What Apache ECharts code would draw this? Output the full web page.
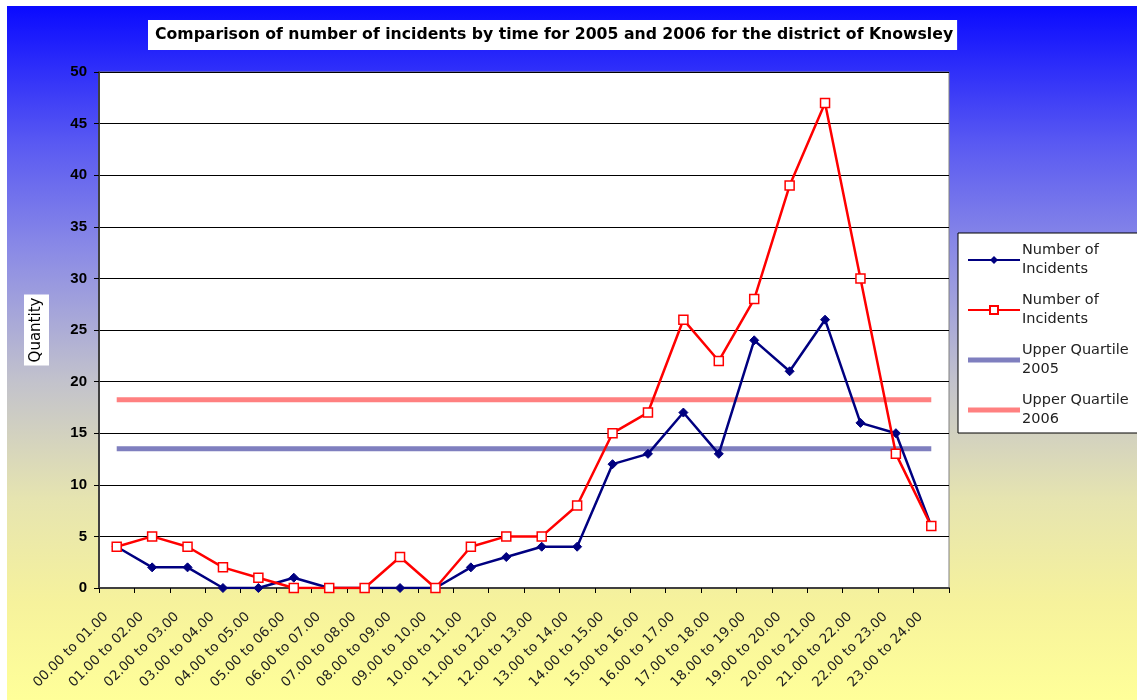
<!DOCTYPE html>
<html>
<head>
<meta charset="utf-8">
<style>
  html, body { margin: 0; padding: 0; background: #fff; }
  #chart { width: 1137px; height: 700px; }
</style>
<script src="https://cdn.jsdelivr.net/npm/echarts@6/dist/echarts.min.js"></script>
</head>
<body>
<div id="chart"></div>
<script>
// time bands
var hours = ['00.00 to 01.00', '01.00 to 02.00', '02.00 to 03.00', '03.00 to 04.00',
  '04.00 to 05.00', '05.00 to 06.00', '06.00 to 07.00', '07.00 to 08.00',
  '08.00 to 09.00', '09.00 to 10.00', '10.00 to 11.00', '11.00 to 12.00',
  '12.00 to 13.00', '13.00 to 14.00', '14.00 to 15.00', '15.00 to 16.00',
  '16.00 to 17.00', '17.00 to 18.00', '18.00 to 19.00', '19.00 to 20.00',
  '20.00 to 21.00', '21.00 to 22.00', '22.00 to 23.00', '23.00 to 24.00'];

var incidents2005 = [4, 2, 2, 0, 0, 1, 0, 0, 0, 0, 2, 3, 4, 4, 12, 13, 17, 13, 24, 21, 26, 16, 15, 6];
var incidents2006 = [4, 5, 4, 2, 1, 0, 0, 0, 3, 0, 4, 5, 5, 8, 15, 17, 26, 22, 28, 39, 47, 30, 13, 6];
var quartile2005 = 13.5;
var quartile2006 = 18.25;

var legendNames = {
  'inc2005': 'Number of\nIncidents',
  'inc2006': 'Number of\nIncidents',
  'uq2005': 'Upper Quartile\n2005',
  'uq2006': 'Upper Quartile\n2006'
};

var font = 'DejaVu Sans, Verdana, sans-serif';
var barIcon = 'path://M0,0H52V5H0Z';

var dom = document.getElementById('chart');
var myChart = echarts.init(dom);

var option = {
  animation: false,
  graphic: [{
    type: 'rect',
    z: -10,
    silent: true,
    shape: { x: 7, y: 6, width: 1130, height: 694 },
    style: {
      fill: new echarts.graphic.LinearGradient(0, 0, 0, 1, [
        { offset: 0, color: '#0a0aff' },
        { offset: 0.2, color: '#5a5af2' },
        { offset: 0.35, color: '#8a8ae6' },
        { offset: 0.54, color: '#c2c2cc' },
        { offset: 0.71, color: '#e6e4b0' },
        { offset: 0.86, color: '#f6f29c' },
        { offset: 1, color: '#ffff99' }
      ])
    }
  }, {
    // legend box runs off the right edge
    type: 'rect',
    z: 50,
    silent: true,
    shape: { x: 958, y: 233, width: 200, height: 200 },
    style: { fill: '#fff', stroke: '#000', lineWidth: 1 }
  }],
  title: {
    text: 'Comparison of number of incidents by time for 2005 and 2006 for the district of Knowsley',
    left: 148,
    top: 20,
    backgroundColor: '#fff',
    padding: [7, 4, 7, 7],
    textStyle: { fontFamily: font, fontSize: 15.7, fontWeight: 'bold', color: '#000' }
  },
  legend: {
    orient: 'vertical',
    left: 958,
    top: 233,
    z: 60,
    padding: [8, 10, 8, 9],
    itemGap: 12,
    itemWidth: 52,
    itemHeight: 10,
    textStyle: { fontFamily: font, fontSize: 14.5, color: '#222', lineHeight: 19, padding: [0, 0, 0, -3] },
    formatter: function (name) { return legendNames[name]; },
    data: [
      'inc2005',
      'inc2006',
      { name: 'uq2005', icon: barIcon },
      { name: 'uq2006', icon: barIcon }
    ]
  },
  grid: {
    left: 99,
    right: 188,
    top: 72,
    bottom: 112,
    show: true,
    backgroundColor: '#fff',
    borderColor: '#808080',
    borderWidth: 1
  },
  xAxis: {
    type: 'category',
    data: hours,
    boundaryGap: true,
    axisLine: { lineStyle: { color: '#404040', width: 2 } },
    axisTick: { show: true, length: 5, lineStyle: { color: '#000' } },
    axisLabel: {
      interval: 0,
      rotate: 45,
      margin: 16,
      padding: [0, 15, 0, 0],
      fontFamily: font,
      fontSize: 13.5,
      color: '#222'
    }
  },
  yAxis: {
    type: 'value',
    min: 0,
    max: 50,
    interval: 5,
    name: 'Quantity',
    nameLocation: 'middle',
    nameRotate: 90,
    nameGap: 50,
    nameTextStyle: {
      fontFamily: font, fontSize: 15, color: '#000',
      backgroundColor: '#fff', padding: [5, 3, 5, 3]
    },
    axisLine: { show: true, lineStyle: { color: '#404040', width: 2 } },
    axisTick: { show: true, length: 5, lineStyle: { color: '#000' } },
    axisLabel: { fontFamily: 'Liberation Sans, Arial, sans-serif', fontSize: 15, fontWeight: 'bold', color: '#000', margin: 12 },
    splitLine: { lineStyle: { color: '#000', width: 1 } }
  },
  series: [
    {
      name: 'uq2005',
      type: 'line',
      data: hours.map(function () { return quartile2005; }),
      symbol: 'none',
      lineStyle: { color: '#7f7fbf', width: 5 },
      itemStyle: { color: '#7f7fbf' },
      z: 2
    },
    {
      name: 'uq2006',
      type: 'line',
      data: hours.map(function () { return quartile2006; }),
      symbol: 'none',
      lineStyle: { color: '#ff8080', width: 5 },
      itemStyle: { color: '#ff8080' },
      z: 2
    },
    {
      name: 'inc2005',
      type: 'line',
      data: incidents2005,
      symbol: 'diamond',
      symbolSize: 9,
      lineStyle: { color: '#000080', width: 2.5 },
      itemStyle: { color: '#000080', borderColor: '#000080' },
      z: 3
    },
    {
      name: 'inc2006',
      type: 'line',
      data: incidents2006,
      symbol: 'rect',
      symbolSize: 9,
      lineStyle: { color: '#ff0000', width: 2.5 },
      itemStyle: { color: '#fff', borderColor: '#ff0000', borderWidth: 1.5 },
      z: 4
    }
  ]
};

myChart.setOption(option);
</script>
</body>
</html>
